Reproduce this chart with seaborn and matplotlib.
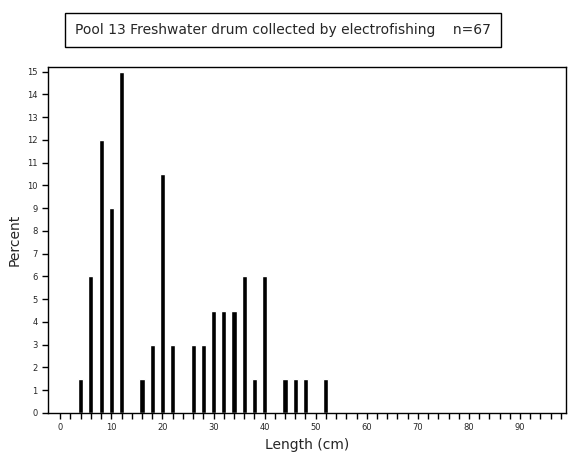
import matplotlib
matplotlib.use("Agg")
import matplotlib.pyplot as plt
import seaborn as sns
import numpy as np

lengths = [4, 6, 8, 10, 12, 16, 18, 20, 22, 26, 28, 30, 32, 34, 36, 38, 40, 44, 46, 48, 52]
percent = [1.5, 6, 12, 9, 15, 1.5, 3, 10.5, 3, 3, 3, 4.5, 4.5, 4.5, 6, 1.5, 6, 1.5, 1.5, 1.5, 1.5]
title = "Pool 13 Freshwater drum collected by electrofishing    n=67"

sns.set_style("white")
plt.rcParams['font.family'] = ['DejaVu Sans']
fig = plt.figure(figsize=(5.7, 4.75), dpi=100)
ax = fig.add_axes([48/570, 1-413/475, (566-48)/570, (413-67)/475])
ax.bar(lengths, percent, width=1.0, color="black")
ax.set_xlim(-2.4, 99)
ax.set_ylim(0, 15.2)
ax.set_xticks(np.arange(0, 99, 2), minor=True)
ax.set_xticks(np.arange(0, 91, 10))
ax.set_yticks(np.arange(0, 16, 1))
ax.tick_params(axis='both', which='both', direction='out', length=4, width=1, labelsize=6, color='black', left=True, bottom=True)
ax.tick_params(axis='y', labelsize=6)
for s in ax.spines.values():
    s.set_color('black'); s.set_linewidth(1)
ax.set_xlabel("Length (cm)", fontsize=10)
ax.set_ylabel("Percent", fontsize=10)
fig.text(283/570, 1-30/475, title, ha='center', va='center', fontsize=10,
         bbox=dict(boxstyle='square,pad=0.7', fc='white', ec='black', lw=1))
fig.savefig("out.png", dpi=100)
